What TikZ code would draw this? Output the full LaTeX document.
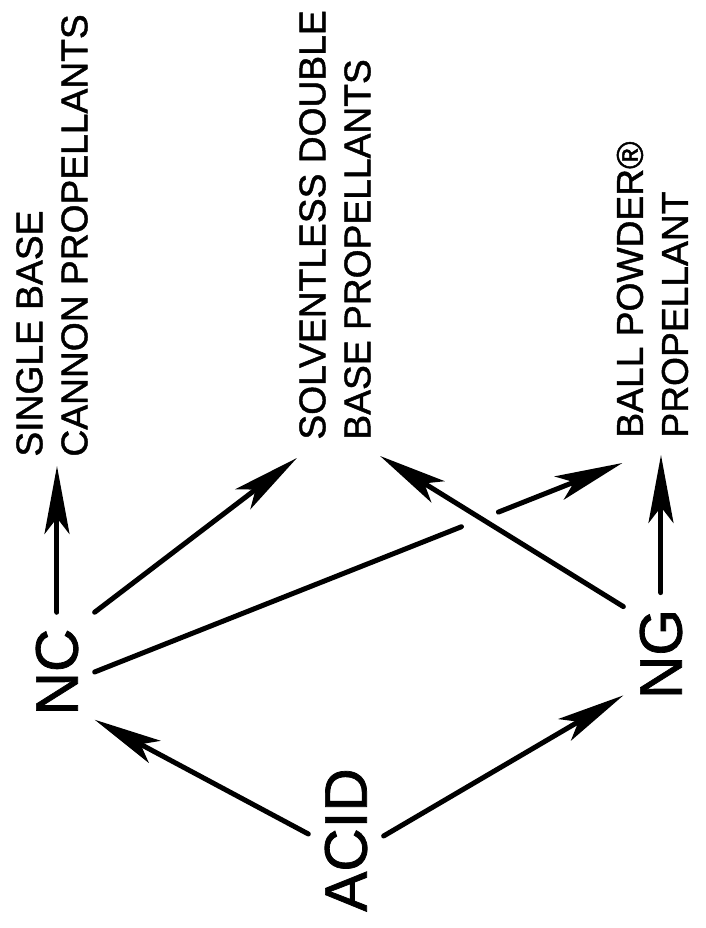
\documentclass[tikz,border=0pt]{standalone}
\usepackage{fontspec}
\setmainfont{Liberation Sans}[FakeBold=1.2]
\usetikzlibrary{arrows.meta,calc}

\tikzset{
  stock/.style={inner sep=8pt,font=\fontsize{30}{36}\selectfont},
  product/.style={align=left,anchor=west,inner sep=4.5pt,font=\fontsize{18.6}{22.5}\selectfont},
  plain/.style={line width=2.5pt,line cap=round},
  flow/.style={plain,-{Stealth[length=34pt,width=12.5pt,inset=8pt]}}
}

\begin{document}
\begin{tikzpicture}[x=0.5pt,y=0.5pt,rotate=90,transform shape]
  \useasboundingbox (0,0) rectangle (928,706);
  % raw materials
  \node[stock] (acid) at (88,360) {ACID};
  \node[stock] (nc) at (256,649) {NC};
  \node[stock] (ng) at (274,45) {NG};
  % propellants
  \node[product] (single) at (462,654) {SINGLE BASE\\CANNON PROPELLANTS};
  \node[product] (solv) at (479,371) {SOLVENTLESS DOUBLE\\BASE PROPELLANTS};
  \node[product] (ball) at (481,53.5) {BALL POWDER®\\PROPELLANT};
  \coordinate (ballin) at ($(ball.north west)+(-8pt,-7.5pt)$);
  % flows
  \draw[flow] ([xshift=3pt]acid.north) -- ([xshift=6pt]nc.south west);
  \draw[flow] ([xshift=2pt]acid.south) -- ([xshift=10pt]ng.north west);
  \draw[flow] (nc.east) -- (nc.east -| single.west);
  \draw[flow] (nc.south east) -- ([xshift=-4.5pt,yshift=-3.5pt]solv.north west);
  \draw[plain] (nc.south) -- ($(nc.south)!0.695!(ballin)$);
  \draw[flow] ($(nc.south)!0.765!(ballin)$) -- (ballin);
  \draw[flow] ([xshift=-7pt]ng.north east) -- ([xshift=-3.5pt]solv.south west);
  \draw[flow,shorten >=4pt] (ng.east) -- (ng.east -| ball.west);
\end{tikzpicture}
\end{document}
